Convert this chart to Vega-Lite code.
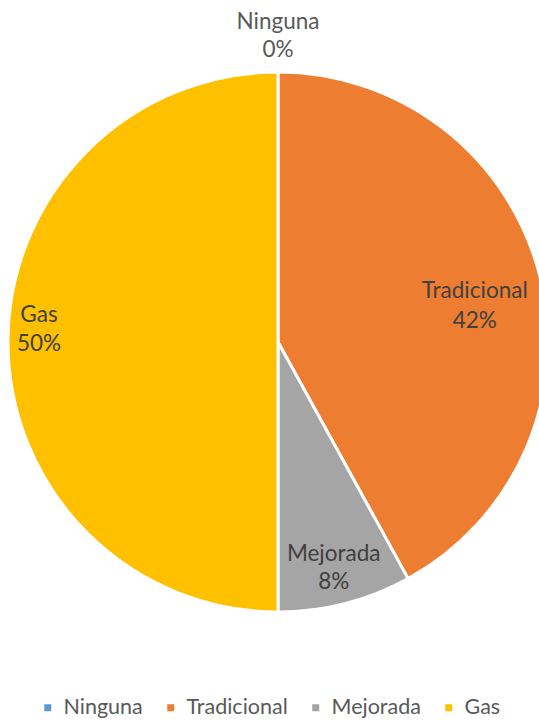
{
  "$schema": "https://vega.github.io/schema/vega-lite/v6.json",
  "width": 556,
  "height": 684,
  "autosize": {"type": "none"},
  "padding": {"left": 0, "top": 0, "right": 0, "bottom": 40},
  "background": "white",
  "view": {"stroke": null},
  "data": {
    "values": [
      {"cat": "Ninguna", "value": 0, "k": 1},
      {"cat": "Tradicional", "value": 0.42, "k": 2},
      {"cat": "Mejorada", "value": 0.08, "k": 3},
      {"cat": "Gas", "value": 0.5, "k": 4}
    ]
  },
  "encoding": {
    "theta": {"field": "value", "type": "quantitative", "stack": true},
    "order": {"field": "k", "type": "quantitative"}
  },
  "layer": [
    {
      "mark": {"type": "arc", "outerRadius": 270, "stroke": "white", "strokeWidth": 3},
      "encoding": {
        "color": {
          "field": "cat",
          "type": "nominal",
          "scale": {"domain": ["Ninguna", "Tradicional", "Mejorada", "Gas"], "range": ["#5B9BD5", "#ED7D31", "#A5A5A5", "#FFC000"]},
          "legend": {
            "orient": "none",
            "legendX": 37,
            "legendY": 697,
            "direction": "horizontal",
            "gridAlign": "none",
            "title": null,
            "padding": 0,
            "symbolType": "square",
            "symbolSize": 49,
            "symbolStrokeWidth": 0,
            "labelFont": "Lato",
            "labelFontSize": 21.5,
            "labelColor": "#595959",
            "labelOffset": 5,
            "columnPadding": 17
          }
        }
      }
    },
    {
      "mark": {"type": "text", "radius": 200, "font": "Lato", "fontSize": 22.5, "color": "#404040", "dy": -1, "dx": 3},
      "encoding": {"text": {"condition": {"test": "datum.cat === 'Tradicional'", "field": "cat"}, "value": ""}}
    },
    {
      "mark": {"type": "text", "radius": 200, "font": "Lato", "fontSize": 22.5, "color": "#404040", "dy": 29, "dx": 3},
      "encoding": {"text": {"condition": {"test": "datum.cat === 'Tradicional'", "field": "value", "format": ".0%"}, "value": ""}}
    },
    {
      "mark": {"type": "text", "radius": 240, "font": "Lato", "fontSize": 22.5, "color": "#404040", "dy": -27, "dx": 1},
      "encoding": {"text": {"condition": {"test": "datum.cat === 'Gas'", "field": "cat"}, "value": ""}}
    },
    {
      "mark": {"type": "text", "radius": 240, "font": "Lato", "fontSize": 22.5, "color": "#404040", "dy": 2, "dx": 1},
      "encoding": {"text": {"condition": {"test": "datum.cat === 'Gas'", "field": "value", "format": ".0%"}, "value": ""}}
    },
    {
      "mark": {"type": "text", "radius": 232, "font": "Lato", "fontSize": 22.5, "color": "#404040", "dy": -13, "dx": -2},
      "encoding": {"text": {"condition": {"test": "datum.cat === 'Mejorada'", "field": "cat"}, "value": ""}}
    },
    {
      "mark": {"type": "text", "radius": 232, "font": "Lato", "fontSize": 22.5, "color": "#404040", "dy": 15, "dx": -2},
      "encoding": {"text": {"condition": {"test": "datum.cat === 'Mejorada'", "field": "value", "format": ".0%"}, "value": ""}}
    },
    {
      "mark": {"type": "text", "radius": 306, "font": "Lato", "fontSize": 22.5, "color": "#595959", "dy": -14},
      "encoding": {"text": {"condition": {"test": "datum.cat === 'Ninguna'", "field": "cat"}, "value": ""}}
    },
    {
      "mark": {"type": "text", "radius": 306, "font": "Lato", "fontSize": 22.5, "color": "#595959", "dy": 14},
      "encoding": {"text": {"condition": {"test": "datum.cat === 'Ninguna'", "field": "value", "format": ".0%"}, "value": ""}}
    }
  ]
}
